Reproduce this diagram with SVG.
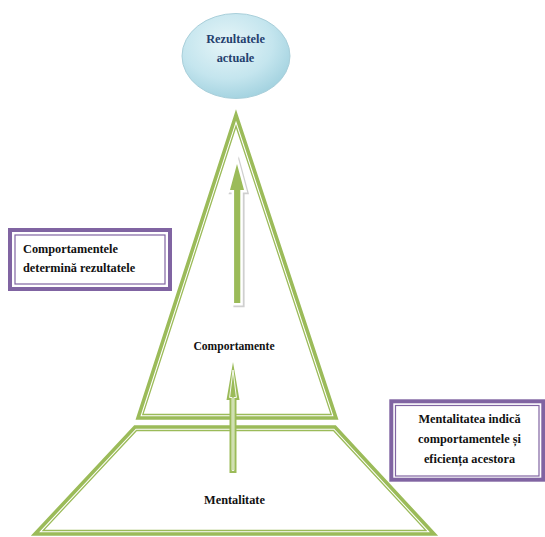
<svg xmlns="http://www.w3.org/2000/svg" width="545" height="537" viewBox="0 0 545 537">
  <defs>
    <radialGradient id="bubble" cx="0.42" cy="0.35" r="0.7">
      <stop offset="0" stop-color="#e6f5f8"/>
      <stop offset="0.6" stop-color="#c4e5ee"/>
      <stop offset="1" stop-color="#9fd0de"/>
    </radialGradient>
  </defs>
  <style>
    .outer{fill:none;stroke:#9bbb59;stroke-width:3.6;stroke-linejoin:miter}
    .inner{fill:none;stroke:#9bbb59;stroke-width:1.3;stroke-linejoin:miter}
    .shape{fill:#ffffff;stroke:none}
    .pout{fill:#ffffff;stroke:#8064a2;stroke-width:4}
    .pin{fill:none;stroke:#8064a2;stroke-width:1.2}
    .t{font-family:"Liberation Serif","Times New Roman",serif;font-weight:bold;font-size:12.3px;fill:#111111}
    .tb{font-family:"Liberation Serif","Times New Roman",serif;font-weight:bold;font-size:12.3px;fill:#24406e}
  </style>

  <g id="node-rezultate">
    <ellipse cx="236" cy="56" rx="54" ry="42.5" fill="url(#bubble)" stroke="#a9cfda" stroke-width="1"/>
    <text class="tb" x="235.5" y="43" text-anchor="middle">Rezultatele</text>
    <text class="tb" x="235.5" y="62" text-anchor="middle">actuale</text>
  </g>

  <g id="node-comportamente">
    <polygon class="shape" points="236,115 138,418 336,418"/>
    <polygon class="outer" points="236,115 138,418 336,418"/>
    <polygon class="inner" points="236,126.2 142.8,414.5 331.2,414.5"/>
    <text class="t" x="234" y="350" text-anchor="middle" style="font-size:11.6px">Comportamente</text>
  </g>

  <g id="node-mentalitate">
    <polygon class="shape" points="135,427 335,427 434,534 35,534"/>
    <polygon class="outer" points="135,427 335,427 434,534 35,534"/>
    <polygon class="inner" points="136.5,430.5 333.5,430.5 426,530.5 43.1,530.5"/>
    <text class="t" x="234.5" y="504" text-anchor="middle">Mentalitate</text>
  </g>

  <g id="node-nota-comportamente">
    <rect class="pout" x="10" y="230" width="160" height="59"/>
    <rect class="pin" x="15" y="235" width="150" height="49"/>
    <text class="t" x="23" y="253">Comportamentele</text>
    <text class="t" x="23" y="272">determină rezultatele</text>
  </g>

  <g id="node-nota-mentalitate">
    <rect class="pout" x="391.3" y="401.3" width="152" height="78.4"/>
    <rect class="pin" x="395.5" y="405.5" width="143.5" height="70.5"/>
    <text class="t" x="469.5" y="423" text-anchor="middle">Mentalitatea indică</text>
    <text class="t" x="469.5" y="443" text-anchor="middle">comportamentele și</text>
    <text class="t" x="469.5" y="462.5" text-anchor="middle">eficiența acestora</text>
  </g>

  <g id="connectors">
    <g id="arrow-comportamente-rezultate">
      <polygon points="237,164 244,190 240.3,190 240.3,303 234.1,303 234.1,190 230,190" transform="translate(1.8,1.8)" fill="#cfcfcf" stroke="#cfcfcf" stroke-width="5" stroke-linejoin="miter"/>
      <polygon points="237,164 244,190 240.3,190 240.3,303 234.1,303 234.1,190 230,190" fill="#ffffff" stroke="#ffffff" stroke-width="5" stroke-linejoin="miter"/>
      <polygon points="237,164 244,190 240.3,190 240.3,303 234.1,303 234.1,190 230,190" fill="#9bbb59"/>
    </g>
    <g id="arrow-mentalitate-comportamente">
      <polygon points="233,362 239.5,400 236.5,400 236.5,473 229.5,473 229.5,400 226.5,400" fill="#9bbb59"/>
      <polygon points="233,370 236.4,397.5 233.9,397.5 233.9,470.5 232.1,470.5 232.1,397.5 229.6,397.5" fill="none" stroke="#ffffff" stroke-width="0.9"/>
    </g>
  </g>
</svg>
